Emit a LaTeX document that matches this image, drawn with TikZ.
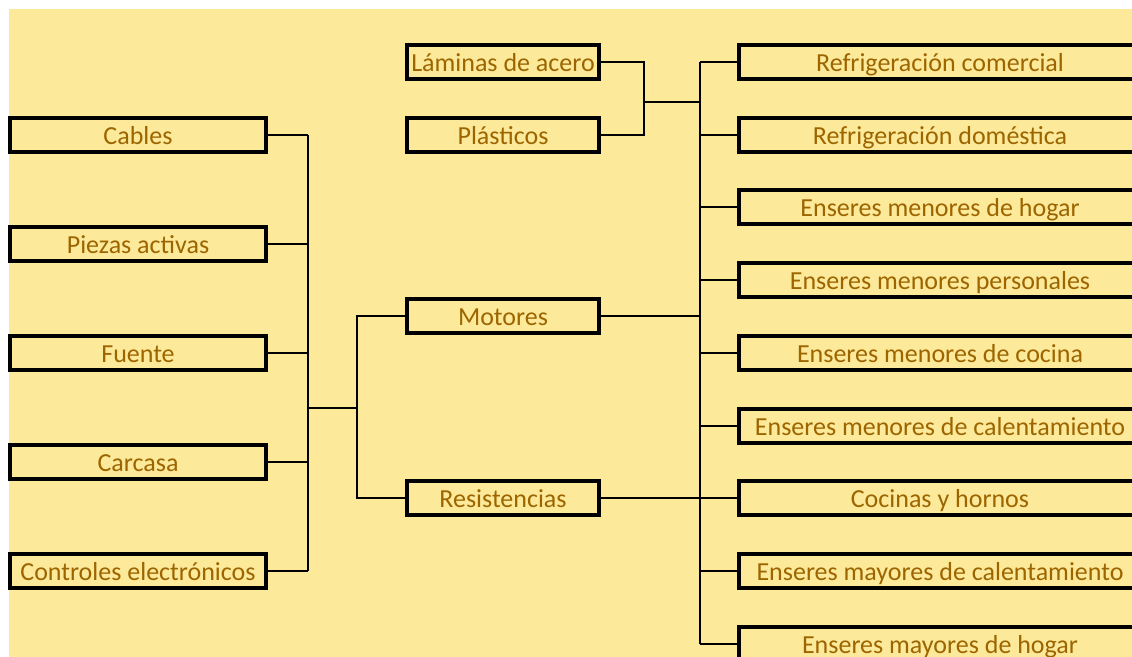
\documentclass[tikz,border=0pt]{standalone}
\usepackage{fontspec}
\setmainfont{Carlito}
\usepackage{xcolor}
\usepackage{tikz}
\definecolor{fondo}{RGB}{253,233,154}
\definecolor{texto}{RGB}{156,101,0}

\begin{document}
\begin{tikzpicture}[x=0.75pt, y=-0.75pt,
    caja/.style={draw=black, line width=3pt, inner sep=0pt,
        minimum height=25.5pt, text=texto,
        text height=17.5pt, text depth=3pt,
        font=\fontsize{19.5}{22}\selectfont},
    izq/.style={caja, minimum width=192pt},
    centro/.style={caja, minimum width=144pt},
    der/.style={caja, minimum width=301.5pt},
    link/.style={draw=black, line width=2pt}]
    \useasboundingbox (0,0) rectangle (1132,657);
    \fill[fondo] (9,9) rectangle (1132,657);

    \coordinate (lb) at (308,0);
    \coordinate (cb) at (357,0);
    \coordinate (rb) at (700,0);
    \coordinate (mid) at (357,408);
    \coordinate (jtop) at (644,102);

    \node[izq] (cab) at (138,135) {Cables};
    \node[izq] (pie) at (138,244) {Piezas activas};
    \node[izq] (fue) at (138,353) {Fuente};
    \node[izq] (car) at (138,462) {Carcasa};
    \node[izq] (con) at (138,571) {Controles electrónicos};

    \node[centro] (lam) at (503,62) {Láminas de acero};
    \node[centro] (pla) at (503,135) {Plásticos};
    \node[centro] (mot) at (503,316) {Motores};
    \node[centro] (res) at (503,498) {Resistencias};

    \node[der] (rco) at (940,62) {Refrigeración comercial};
    \node[der] (rdo) at (940,135) {Refrigeración doméstica};
    \node[der] (emh) at (940,207) {Enseres menores de hogar};
    \node[der] (emp) at (940,280) {Enseres menores personales};
    \node[der] (emc) at (940,353) {Enseres menores de cocina};
    \node[der] (emk) at (940,426) {Enseres menores de calentamiento};
    \node[der] (coh) at (940,498) {Cocinas y hornos};
    \node[der] (eyk) at (940,571) {Enseres mayores de calentamiento};
    \node[der] (eyh) at (940,644) {Enseres mayores de hogar};

    % izquierda
    \draw[link] (cab.east -| lb) -- (con.east -| lb);
    \draw[link] (cab.east) -- (cab.east -| lb);
    \draw[link] (pie.east) -- (pie.east -| lb);
    \draw[link] (fue.east) -- (fue.east -| lb);
    \draw[link] (car.east) -- (car.east -| lb);
    \draw[link] (con.east) -- (con.east -| lb);
    \draw[link] (mid -| lb) -- (mid);
    \draw[link] (mot.west) -| (cb |- res.west) -- (res.west);

    % arriba
    \draw[link] (lam.east) -| (jtop) |- (pla.east);
    \draw[link] (jtop) -- (jtop -| rb);

    % derecha
    \draw[link] (rco.west -| rb) -- (eyh.west -| rb);
    \draw[link] (mot.east) -- (mot.east -| rb);
    \draw[link] (res.east) -- (res.east -| rb);
    \draw[link] (rco.west -| rb) -- (rco.west);
    \draw[link] (rdo.west -| rb) -- (rdo.west);
    \draw[link] (emh.west -| rb) -- (emh.west);
    \draw[link] (emp.west -| rb) -- (emp.west);
    \draw[link] (emc.west -| rb) -- (emc.west);
    \draw[link] (emk.west -| rb) -- (emk.west);
    \draw[link] (coh.west -| rb) -- (coh.west);
    \draw[link] (eyk.west -| rb) -- (eyk.west);
    \draw[link] (eyh.west -| rb) -- (eyh.west);
\end{tikzpicture}
\end{document}
